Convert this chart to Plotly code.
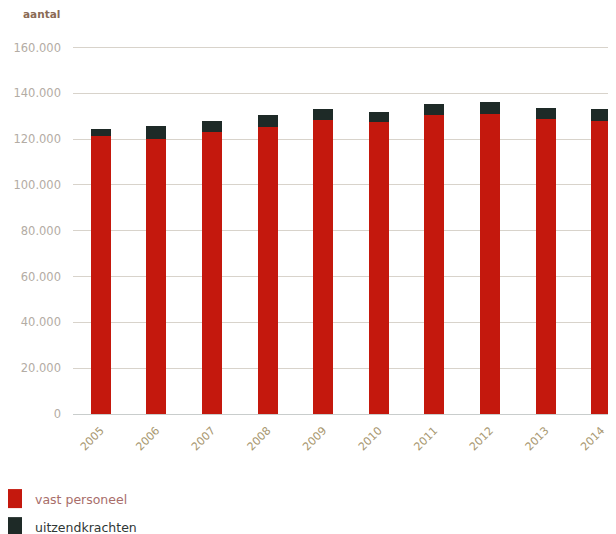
import plotly.graph_objects as go

years = ["2005", "2006", "2007", "2008", "2009", "2010", "2011", "2012", "2013", "2014"]
vast_personeel = [121200, 120100, 123000, 125200, 128400, 127500, 130700, 131100, 128800, 128100]
uitzendkrachten = [3300, 5500, 4800, 5200, 4900, 4500, 4800, 5200, 4800, 5100]
series_names = ["vast personeel", "uitzendkrachten"]
y_ticks = [0, 20000, 40000, 60000, 80000, 100000, 120000, 140000, 160000]
y_title = "aantal"

RED = "#c4180d"
DARK = "#1e2a27"
FONT = "DejaVu Sans"

W, H = 616, 534
OFF = 8  # page body margin offset
ML, MR = 65, 0
PLOT_BOTTOM = 406
MB = H - PLOT_BOTTOM
PH = 370.6
MT = PLOT_BOTTOM - PH
PW = W - ML - MR


def px_x(x_ref):
    return (x_ref - OFF - ML) / PW


def px_y(y_ref):
    return (PLOT_BOTTOM - (y_ref - OFF)) / PH


fig = go.Figure()
fig.add_trace(go.Bar(x=years, y=vast_personeel, name=series_names[0],
                     marker=dict(color=RED, line=dict(width=0))))
fig.add_trace(go.Bar(x=years, y=uitzendkrachten, name=series_names[1],
                     marker=dict(color=DARK, line=dict(width=0))))

shapes = []
annotations = []
legend_cols = [RED, DARK]
legend_txt_cols = ["#a86d6a", "#2f3735"]
for i, (nm, col, tc) in enumerate(zip(series_names, legend_cols, legend_txt_cols)):
    y0 = 489 + i * 28
    shapes.append(dict(type="rect", xref="paper", yref="paper",
                       x0=px_x(3), x1=px_x(22), y0=px_y(y0), y1=px_y(y0 + 19),
                       fillcolor=col, line=dict(width=0)))
    annotations.append(dict(xref="paper", yref="paper", x=px_x(33), y=px_y(y0 + 10),
                            text=nm, showarrow=False, xanchor="left", yanchor="middle",
                            font=dict(family=FONT, size=12.5, color=tc)))

annotations.append(dict(xref="paper", yref="paper", x=px_x(62), y=px_y(14),
                        text="<b>" + y_title + "</b>", showarrow=False,
                        xanchor="right", yanchor="middle",
                        font=dict(family=FONT, size=10.5, color="#8a6a55")))

fig.update_layout(
    width=W, height=H,
    margin=dict(l=ML, r=MR, t=MT, b=MB, pad=0),
    barmode="stack",
    bargap=0.64,
    showlegend=False,
    separators=",.",
    plot_bgcolor="white",
    paper_bgcolor="white",
    font=dict(family=FONT),
    shapes=shapes,
    annotations=annotations,
    xaxis=dict(type="category", range=[-0.5, 9.41], showgrid=False, zeroline=False,
               showline=False, ticks="", tickangle=-45, ticklabelstandoff=7,
               tickfont=dict(family=FONT, size=11, color="#a8976f")),
    yaxis=dict(range=[0, 162000], tickvals=y_ticks, tickformat=",d",
               showgrid=True, gridcolor="#d8d3cb", gridwidth=1,
               zeroline=True, zerolinecolor="#c9cdcc", zerolinewidth=1,
               showline=False, ticks="", ticklabelstandoff=11,
               tickfont=dict(family=FONT, size=11.5, color="#b3aca4")),
)

fig.write_html("out.html")
